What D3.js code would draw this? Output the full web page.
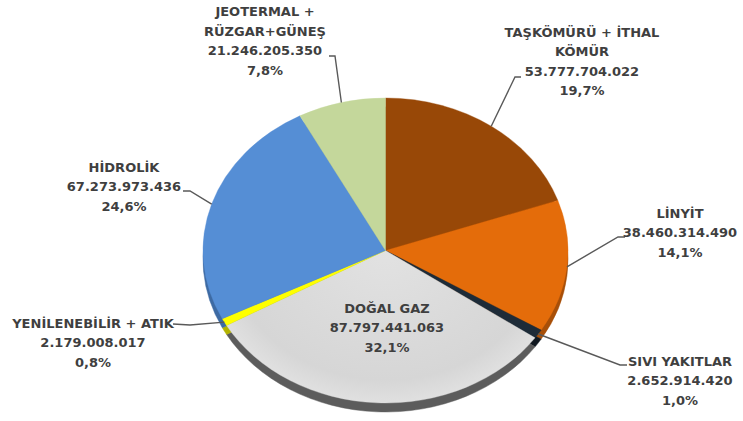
<!DOCTYPE html>
<html lang="tr">
<head>
<meta charset="utf-8">
<script src="https://cdn.jsdelivr.net/npm/d3@7"></script>
<style>
  html, body { margin: 0; padding: 0; background: #ffffff; }
  svg { display: block; }
  text { font-family: "DejaVu Sans", sans-serif; font-weight: bold; font-size: 13px; fill: #3f3f3f; }
</style>
</head>
<body>
<svg id="chart" width="743" height="421"></svg>
<script>
// Electricity generation by source (kWh), clockwise from 12 o'clock
const categories = [
  "TAŞKÖMÜRÜ + İTHAL\nKÖMÜR",
  "LİNYİT",
  "SIVI YAKITLAR",
  "DOĞAL GAZ",
  "YENİLENEBİLİR + ATIK",
  "HİDROLİK",
  "JEOTERMAL +\nRÜZGAR+GÜNEŞ"
];
const values = [
  53777704022,
  38460314490,
  2652914420,
  87797441063,
  2179008017,
  67273973436,
  21246205350
];
const colors = ["#984807", "#e46c0a", "#1d2b38", "#d9d9d9", "#ffff00", "#558ed5", "#c4d79b"];
const sideColors = ["#6a3205", "#a84f08", "#101820", "#5c5c5c", "#b3b300", "#3d6aa3", "#8fa16c"];

// label layout: text centre x, first baseline y, elbow point and end of the leader line
const labelLayout = [
  { x: 582, y: 36.5, elbow: [515, 77], end: [521, 77] },
  { x: 680, y: 217.5, elbow: [618, 237], end: [625, 237] },
  { x: 680, y: 365.5, elbow: [620, 365], end: [627, 365] },
  { x: 387, y: 312.5, elbow: null, end: null },
  { x: 93, y: 327.5, elbow: [190, 325], end: [173, 324] },
  { x: 124, y: 171.5, elbow: [190, 191], end: [183, 191] },
  { x: 265, y: 16, elbow: [335, 56], end: [329, 56] }
];

const svg = d3.select("#chart");
const cx = 385.5, cy = 250.5, rx = 182.5, ry = 152.5, depth = 9;
const lineH = 19.5;

const tr = d3.formatLocale({ decimal: ",", thousands: ".", grouping: [3], currency: ["", " TL"] });
const fmtNum = tr.format(",d");
const fmtPct = tr.format(".1%");
const total = d3.sum(values);

const pie = d3.pie().sort(null).value(d => d).startAngle(0).endAngle(2 * Math.PI);
const slices = pie(values);
const arc = d3.arc().innerRadius(0).outerRadius(rx);

const defs = svg.append("defs");
const grad = defs.append("radialGradient")
  .attr("id", "gasGrad").attr("gradientUnits", "userSpaceOnUse")
  .attr("cx", 0).attr("cy", 0).attr("r", rx);
grad.append("stop").attr("offset", "0%").attr("stop-color", "#e2e2e2");
grad.append("stop").attr("offset", "85%").attr("stop-color", "#d6d6d6");
grad.append("stop").attr("offset", "100%").attr("stop-color", "#e0e0e0");

// side walls: each slice shifted down and darkened
const sideLayer = svg.append("g")
  .attr("transform", `translate(${cx},${cy + depth}) scale(1,${ry / rx})`);
sideLayer.selectAll("path").data(slices).join("path")
  .attr("d", arc)
  .attr("fill", (d, i) => sideColors[i])
  .attr("stroke", (d, i) => sideColors[i])
  .attr("stroke-width", 0.5);

// top face
const faceLayer = svg.append("g")
  .attr("transform", `translate(${cx},${cy}) scale(1,${ry / rx})`);
faceLayer.selectAll("path").data(slices).join("path")
  .attr("d", arc)
  .attr("fill", (d, i) => i === 3 ? "url(#gasGrad)" : colors[i])
  .attr("stroke", (d, i) => colors[i])
  .attr("stroke-width", 0.4);

// leader lines from slice rim to label
const rimPoint = d => {
  const a = (d.startAngle + d.endAngle) / 2;
  return [cx + rx * Math.sin(a), cy - ry * Math.cos(a)];
};
svg.append("g").selectAll("path")
  .data(slices.filter((d, i) => labelLayout[i].elbow))
  .join("path")
  .attr("d", d => {
    const L = labelLayout[d.index];
    return d3.line()([rimPoint(d), L.elbow, L.end]);
  })
  .attr("fill", "none")
  .attr("stroke", "#595959")
  .attr("stroke-width", 1.4);

// labels: name, value, share
const labelLayer = svg.append("g");
slices.forEach((d, i) => {
  const L = labelLayout[i];
  const lines = categories[i].split("\n").concat([fmtNum(values[i]), fmtPct(values[i] / total)]);
  const t = labelLayer.append("text").attr("text-anchor", "middle");
  lines.forEach((s, k) => {
    t.append("tspan").attr("x", L.x).attr("y", L.y + k * lineH).text(s);
  });
});
</script>
</body>
</html>
